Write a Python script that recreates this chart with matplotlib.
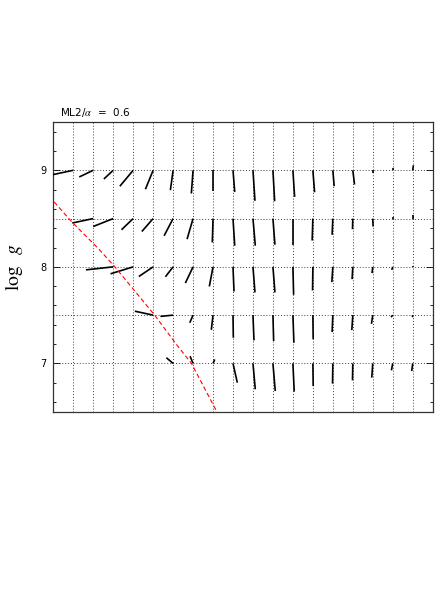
import numpy as np
import matplotlib
matplotlib.use("Agg")
import matplotlib.pyplot as plt

plt.rcParams['mathtext.fontset'] = 'stix'

# model grid (Teff in K, log g)
teff_grid = [6000, 6500, 7000, 7500, 8000, 8500, 9000, 9500, 10000,
             10500, 11000, 11500, 12000, 12500, 13000, 13500, 14000, 14500]
logg_grid = [9.0, 8.5, 8.0, 7.5, 7.0]

# corrections at each grid point (None = no model)
dteff = {
    9.0: [-525, -350, -233, -333, -193, -68, -43, 0, 43,
          50, 43, 43, 43, 33, 43, 0, 0, 18],
    8.5: [None, -525, -500, -293, -283, -225, -150, -18, 43,
          58, 50, 0, -18, -18, -8, 8, 0, 0],
    8.0: [None, None, -683, -567, -358, -193, -193, -93, 25,
          50, 50, 18, -8, -25, -18, -18, -25, 0],
    7.5: [None, None, None, None, -458, -318, -83, -43, 8,
          25, 18, 25, 8, -18, -25, -33, -43, -8],
    7.0: [None, None, None, None, None, -168, -75, 43, 108,
          58, 58, 33, 8, -8, -8, -25, -33, -25],
}
dlogg = {
    9.0: [-0.046, -0.069, -0.090, -0.165, -0.196, -0.206, -0.240, -0.216, -0.224,
          -0.316, -0.320, -0.275, -0.227, -0.165, -0.147, -0.028, 0.028, 0.052],
    8.5: [None, -0.046, -0.082, -0.116, -0.134, -0.178, -0.213, -0.247, -0.281,
          -0.281, -0.271, -0.271, -0.227, -0.168, -0.110, -0.082, 0.013, 0.038],
    8.0: [None, None, -0.031, -0.072, -0.100, -0.103, -0.168, -0.203, -0.255,
          -0.265, -0.265, -0.289, -0.244, -0.158, -0.127, -0.065, -0.031, 0.010],
    7.5: [None, None, None, None, 0.041, -0.013, -0.079, -0.152, -0.234,
          -0.261, -0.268, -0.286, -0.251, -0.175, -0.155, -0.090, -0.021, -0.021],
    7.0: [None, None, None, None, None, 0.059, 0.075, 0.041, -0.199,
          -0.268, -0.286, -0.292, -0.234, -0.209, -0.175, -0.147, -0.072, -0.079],
}

# red dashed boundary
line_teff = [5400, 5542, 5960, 6650, 7042, 8042, 8585, 8960, 9585, 9700]
line_logg = [8.726, 8.663, 8.467, 8.18, 8.0, 7.498, 7.196, 7.0, 6.508, 6.418]

fig = plt.figure(figsize=(4.43, 5.90), dpi=100)
ax = fig.add_axes([0.1203, 0.3022, 0.8564, 0.4910])

ax.set_xlim(5500, 15000)
ax.set_ylim(6.5, 9.5)

# dotted grid
for t in teff_grid:
    ax.axvline(t, color='0.25', linestyle=(0, (1, 2)), linewidth=0.7, zorder=1)
for g in logg_grid:
    ax.axhline(g, color='0.25', linestyle=(0, (1, 2)), linewidth=0.7, zorder=1)

# correction vectors
for g in logg_grid:
    for t, dt, dg in zip(teff_grid, dteff[g], dlogg[g]):
        if dt is None:
            continue
        ax.plot([t, t + dt], [g, g + dg], color='black', linewidth=1.2,
                solid_capstyle='butt', zorder=3)

ax.plot(line_teff, line_logg, color='red', linestyle=(0, (4, 2.5)),
        linewidth=0.8, zorder=4)

ax.set_yticks([7, 8, 9])
ax.set_yticks(np.arange(6.6, 9.5, 0.2), minor=True)
ax.set_yticklabels(['7', '8', '9'], fontsize=7)
ax.set_xticks([])
ax.tick_params(axis='y', which='both', direction='in', left=True, right=True)
ax.tick_params(axis='y', which='major', length=5, width=0.6, pad=5)
ax.tick_params(axis='y', which='minor', length=2.5, width=0.6)
for s in ax.spines.values():
    s.set_linewidth(0.9)
    s.set_color('0.2')

ax.set_ylabel(r'$\log\ \ g$', fontsize=14, labelpad=11)
ax.text(0.017, 1.012, r'ML2/$\alpha$  =  0.6', transform=ax.transAxes,
        fontsize=7.5, ha='left', va='bottom')

fig.savefig('out.png', dpi=100)
